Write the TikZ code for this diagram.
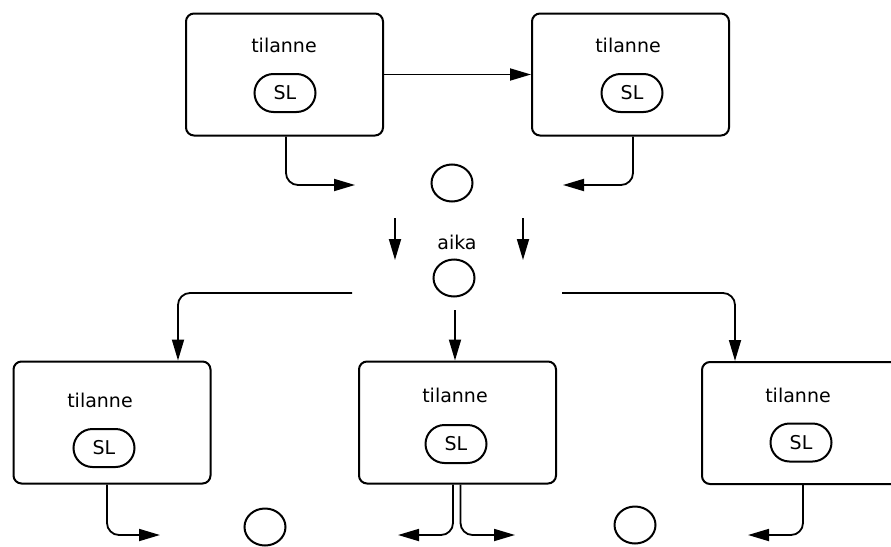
\documentclass[tikz,border=0pt]{standalone}
\usepackage{fontspec}
\setmainfont{DejaVu Sans}
\usetikzlibrary{arrows.meta,shapes.geometric}
\begin{document}
\begin{tikzpicture}[x=1pt,y=-1pt,
  state/.style={draw, line width=2pt, rounded corners=8pt, minimum width=197pt, minimum height=122pt},
  lbl/.style={font=\fontsize{19}{21}\selectfont, inner sep=0pt},
  slnode/.style={draw, line width=2pt, rounded corners=19pt, minimum width=61pt, minimum height=38pt, font=\fontsize{19}{21}\selectfont, inner sep=0pt},
  blob/.style={draw, ellipse, line width=2pt, minimum width=41pt, minimum height=37pt, inner sep=0pt},
  conn/.style={line width=1.8pt, rounded corners=12pt, -{Triangle[length=21pt,width=12pt]}}]
\useasboundingbox (0,0) rectangle (891,546);
% top row
\node[state] (s0) at (284.5,74.5){};
\node[lbl] (t0) at (284,45){tilanne};
\node[slnode] (sl0) at (285,93){SL};
\node[state] (s1) at (630.5,74.5){};
\node[lbl] (t1) at (628,45){tilanne};
\node[slnode] (sl1) at (632,93){SL};
\draw[conn](s0.east) -- (s1.west);
\coordinate (e0) at (355,185);
\coordinate (e1) at (563,185);
\draw[conn]([xshift=1.5pt]s0.south) |- (e0);
\draw[conn]([xshift=2.5pt]s1.south) |- (e1);
\node[blob] (c0) at (452,183){};
% time
\coordinate (d0) at (395,218);
\coordinate (d1) at (395,260);
\coordinate (d2) at (523,218);
\coordinate (d3) at (523,260);
\draw[conn](d0) -- (d1);
\draw[conn](d2) -- (d3);
\node[lbl] (aika) at (457,242){aika};
\node[blob] (c1) at (454,278){};
% bottom row
\node[state] (s2) at (112,422.5){};
\node[lbl] (t2) at (100,400){tilanne};
\node[slnode] (sl2) at (104,448){SL};
\node[state] (s3) at (457.5,422.5){};
\node[lbl] (t3) at (455,395){tilanne};
\node[slnode] (sl3) at (456,444){SL};
\node[state] (s4) at (800.5,423){};
\node[lbl] (t4) at (798,395){tilanne};
\node[slnode] (sl4) at (801,442.5){SL};
\coordinate (b0) at (352,293);
\coordinate (b1) at (562,293);
\coordinate (m0) at (455,310);
\draw[conn](b0) -| ([xshift=66pt]s2.north);
\draw[conn](b1) -| ([xshift=-65.5pt]s4.north);
\draw[conn](m0) -- (m0 |- s3.north);
\coordinate (e2) at (160,535);
\coordinate (e3) at (398,535);
\coordinate (e4) at (515,535);
\coordinate (e5) at (748,535);
\draw[conn]([xshift=-5pt]s2.south) |- (e2);
\draw[conn]([xshift=-4.5pt]s3.south) |- (e3);
\draw[conn]([xshift=3pt]s3.south) |- (e4);
\draw[conn]([xshift=2.5pt]s4.south) |- (e5);
\node[blob] (c2) at (265,527){};
\node[blob] (c3) at (635,525){};
\end{tikzpicture}
\end{document}
